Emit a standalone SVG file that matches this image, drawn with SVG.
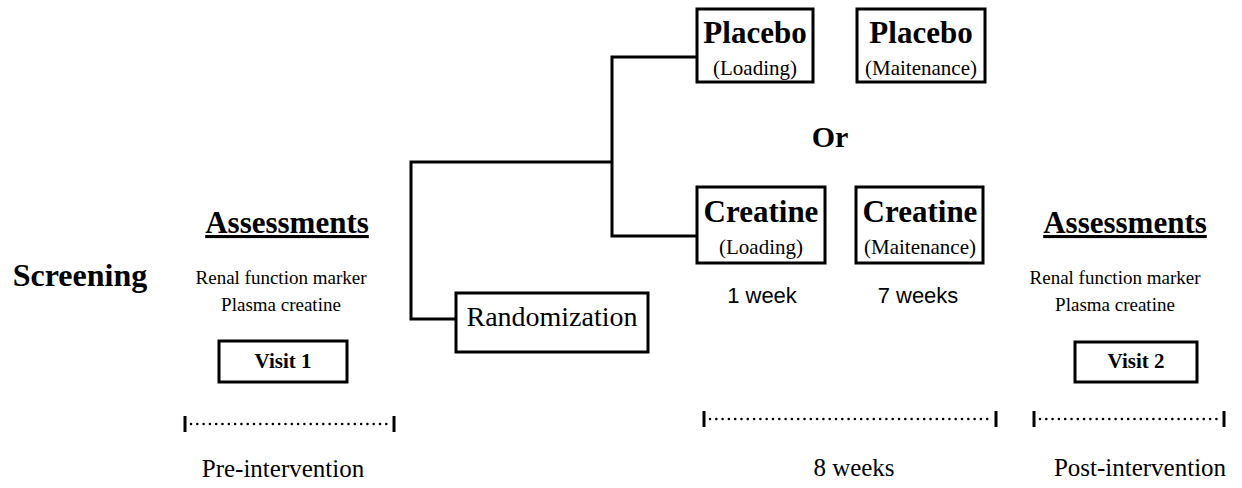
<svg xmlns="http://www.w3.org/2000/svg" width="1242" height="488" viewBox="0 0 1242 488">
<style>
.box{fill:#fff;stroke:#000;stroke-width:3}
.ln{fill:none;stroke:#000;stroke-width:3}
.dot{fill:none;stroke:#000;stroke-width:2.6;stroke-linecap:round;stroke-dasharray:0 6.3}
.tick{stroke:#000;stroke-width:3}
.t{font-family:"Liberation Serif","Times New Roman",serif;fill:#000;text-anchor:middle}
.b{font-weight:bold}
.s{font-family:"Liberation Sans",Arial,sans-serif;fill:#000;text-anchor:middle}
</style>
<rect width="1242" height="488" fill="#fff"/>
<g id="connectors">
<polyline class="ln" points="455,319 411,319 411,162 612,162"/>
<polyline class="ln" points="697,57 612,57 612,236 697,236"/>
</g>
<g id="screening"><text class="t b" x="80" y="286" font-size="32">Screening</text></g>
<g id="assess1">
<text class="t b" x="287" y="233" font-size="31" text-decoration="underline">Assessments</text>
<text class="t" x="281" y="284" font-size="19">Renal function marker</text>
<text class="t" x="281" y="311" font-size="19">Plasma creatine</text>
</g>
<g id="visit1"><rect class="box" x="219" y="341" width="128" height="41"/><text class="t b" x="283" y="368" font-size="21">Visit 1</text></g>
<g id="randomization"><rect class="box" x="456" y="293" width="192" height="59"/><text class="t" x="552" y="326" font-size="28">Randomization</text></g>
<g id="placebo-loading"><rect class="box" x="697" y="9" width="116" height="73"/><text class="t b" x="755" y="43" font-size="31">Placebo</text><text class="t" x="755" y="75" font-size="21">(Loading)</text></g>
<g id="placebo-maint"><rect class="box" x="857" y="9" width="128" height="73"/><text class="t b" x="921" y="43" font-size="31">Placebo</text><text class="t" x="921" y="75" font-size="21">(Maitenance)</text></g>
<g id="or"><text class="t b" x="830" y="147" font-size="30">Or</text></g>
<g id="creatine-loading"><rect class="box" x="697" y="187" width="128" height="76"/><text class="t b" x="761" y="222" font-size="31">Creatine</text><text class="t" x="761" y="254" font-size="21">(Loading)</text></g>
<g id="creatine-maint"><rect class="box" x="856" y="187" width="127" height="76"/><text class="t b" x="920" y="222" font-size="31">Creatine</text><text class="t" x="920" y="254" font-size="21">(Maitenance)</text></g>
<g id="week1"><text class="s" x="762" y="303" font-size="22">1 week</text></g>
<g id="week7"><text class="s" x="918" y="303" font-size="22">7 weeks</text></g>
<g id="assess2">
<text class="t b" x="1125" y="233" font-size="31" text-decoration="underline">Assessments</text>
<text class="t" x="1115" y="284" font-size="19">Renal function marker</text>
<text class="t" x="1115" y="311" font-size="19">Plasma creatine</text>
</g>
<g id="visit2"><rect class="box" x="1075" y="342" width="122" height="40"/><text class="t b" x="1136" y="368" font-size="21">Visit 2</text></g>
<g id="timeline-pre">
<line class="dot" x1="191" y1="424" x2="389" y2="424"/>
<line class="tick" x1="185" y1="416" x2="185" y2="432"/>
<line class="tick" x1="394" y1="416" x2="394" y2="432"/>
<text class="t" x="283" y="477" font-size="25">Pre-intervention</text>
</g>
<g id="timeline-8w">
<line class="dot" x1="710" y1="419" x2="990" y2="419"/>
<line class="tick" x1="704" y1="411" x2="704" y2="427"/>
<line class="tick" x1="996" y1="411" x2="996" y2="427"/>
<text class="t" x="854" y="476" font-size="25">8 weeks</text>
</g>
<g id="timeline-post">
<line class="dot" x1="1040" y1="419" x2="1219" y2="419"/>
<line class="tick" x1="1034" y1="411" x2="1034" y2="427"/>
<line class="tick" x1="1224" y1="411" x2="1224" y2="427"/>
<text class="t" x="1140" y="476" font-size="25">Post-intervention</text>
</g>
</svg>
